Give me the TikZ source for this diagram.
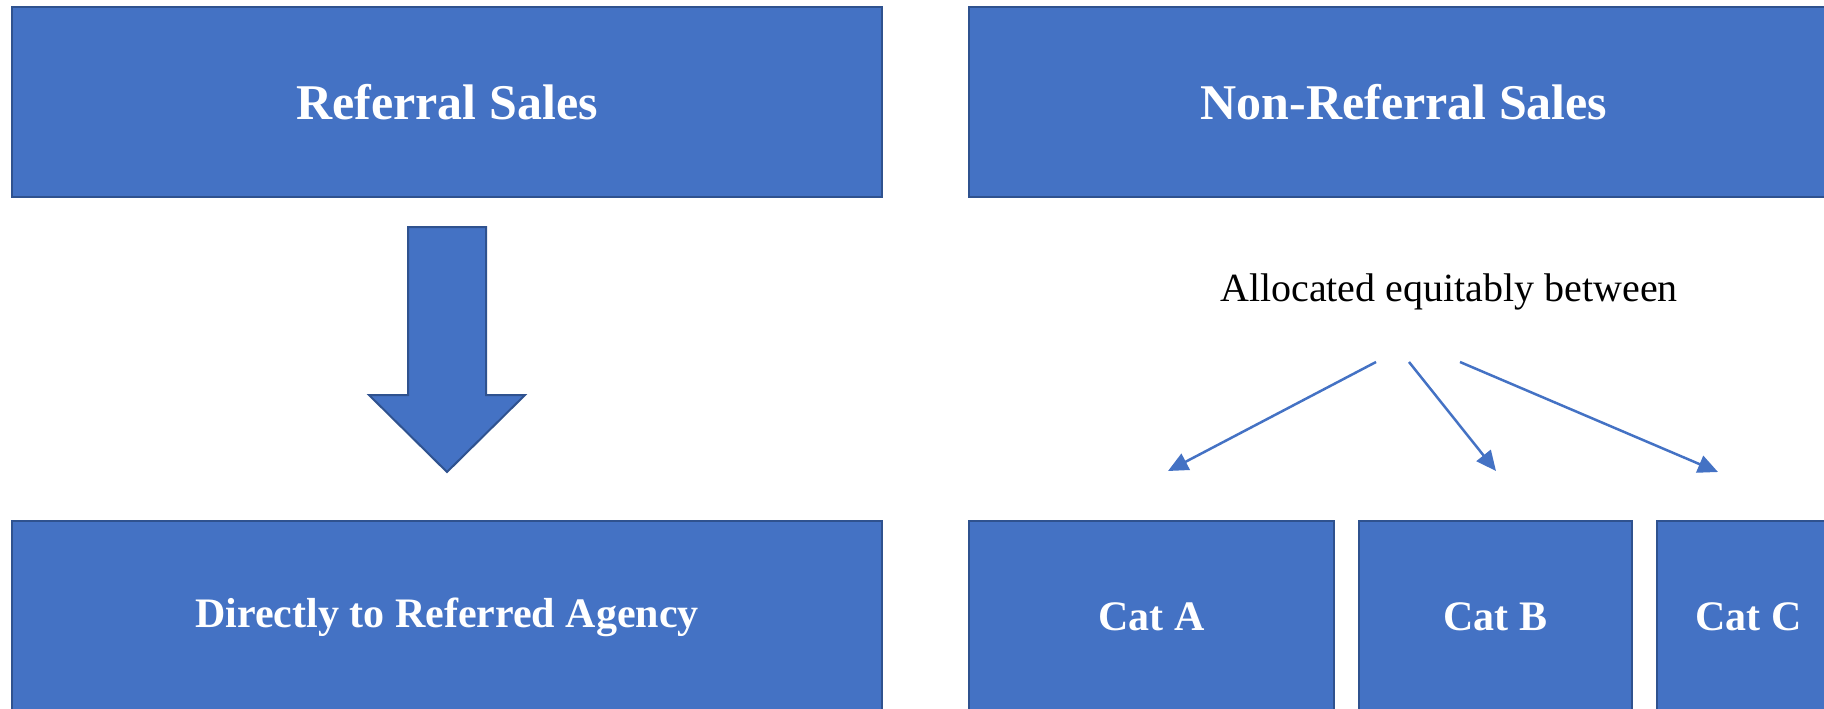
\documentclass[tikz,border=0pt]{standalone}
\usepackage{fontspec}
\setmainfont{Liberation Serif}
\usetikzlibrary{arrows.meta}
\definecolor{boxfill}{HTML}{4472C4}
\definecolor{boxline}{HTML}{2F528F}
\begin{document}
\begin{tikzpicture}[x=1pt,y=-1pt,
  box/.style={draw=boxline,line width=2pt,fill=boxfill,text=white,inner sep=0pt,outer sep=0pt,font=\bfseries},
  bigtext/.style={font=\fontsize{50}{60}\selectfont\bfseries},
  smalltext/.style={font=\fontsize{42}{50}\selectfont\bfseries},
  blockarrow/.style={draw=boxline,line width=2pt,fill=boxfill,line join=miter},
  conn/.style={draw=boxfill,line width=2.5pt,-{Triangle[length=20pt,width=18pt]}}]
\useasboundingbox (0,0) rectangle (1824,709);
\clip (0,0) rectangle (1824,709);
% top boxes
\node[box,bigtext,minimum width=870pt,minimum height=190pt] (ref) at (447,102) {Referral Sales};
\node[box,bigtext,minimum width=870pt,minimum height=190pt] (nonref) at (1404,102) {Non-Referral Sales};
% bottom boxes
\node[box,smalltext,minimum width=870pt,minimum height=192pt] (direct) at (447,617) {Directly to Referred Agency};
\node[box,smalltext,minimum width=365pt,minimum height=192pt] (cata) at (1151.5,617) {Cat A};
\node[box,smalltext,minimum width=273pt,minimum height=192pt] (catb) at (1495.5,617) {Cat B};
\node[box,smalltext,minimum width=183pt,minimum height=192pt] (catc) at (1748.5,617) {Cat C};
% block arrow
\draw[blockarrow] (408,227) -- (486,227) -- (486,395) -- (525,395) -- (447,472) -- (369,395) -- (408,395) -- cycle;
% text
\node[font=\fontsize{40}{48}\selectfont] (alloc) at (1449,292) {Allocated equitably between};
% connector coordinates
\coordinate (s1) at (1376,362);
\coordinate (s2) at (1409,362);
\coordinate (s3) at (1460,362);
\coordinate (e1) at (1168,471);
\coordinate (e2) at (1496,471);
\coordinate (e3) at (1718,472);
\draw[conn] (s1) -- (e1);
\draw[conn] (s2) -- (e2);
\draw[conn] (s3) -- (e3);
\end{tikzpicture}
\end{document}
